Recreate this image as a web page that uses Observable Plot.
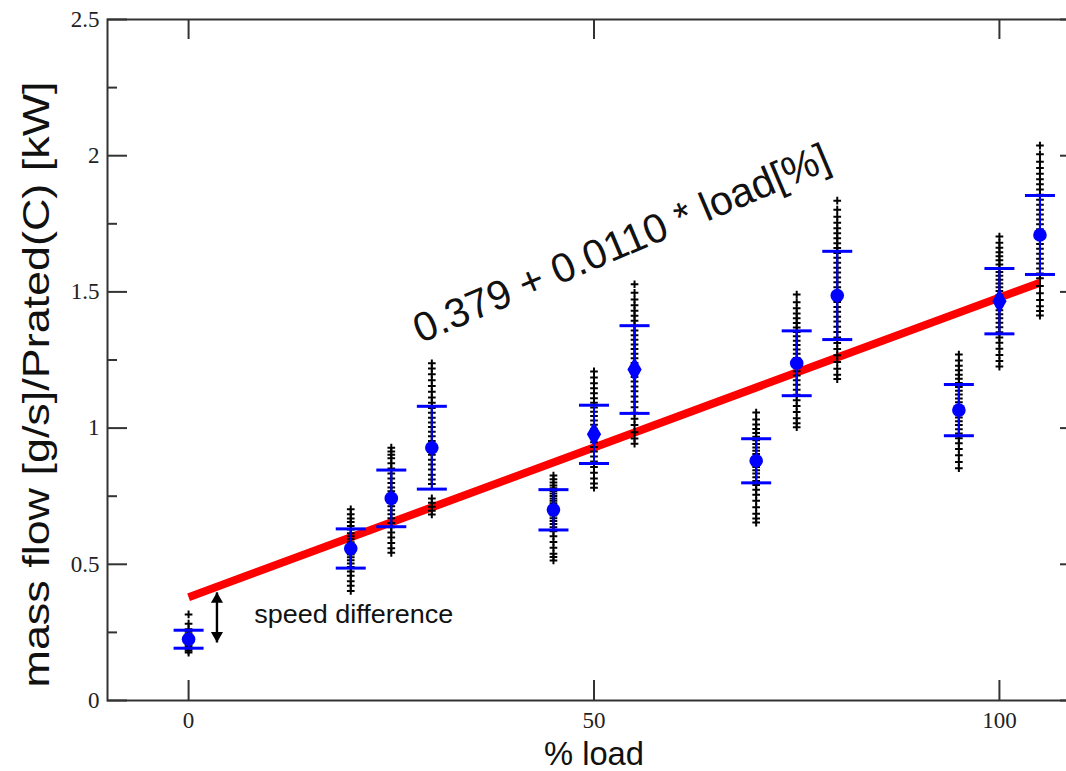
<!DOCTYPE html>
<html><head><meta charset="utf-8">
<script src="https://cdn.jsdelivr.net/npm/d3@7"></script>
<script src="https://cdn.jsdelivr.net/npm/@observablehq/plot@0.6"></script>
<style>
html,body{margin:0;padding:0;background:#fff;overflow:hidden}
#wrap{width:1066px;height:771px;overflow:hidden;position:relative}
</style>
</head><body><div id="wrap"></div>
<script>
// ---------- data ----------
const loads = [0, 20, 25, 30, 45, 50, 55, 70, 75, 80, 95, 100, 105];
const means = [0.225, 0.558, 0.742, 0.928, 0.700, 0.977, 1.215, 0.880, 1.238, 1.487, 1.066, 1.466, 1.709];
const sds   = [0.033, 0.072, 0.104, 0.152, 0.074, 0.107, 0.161, 0.081, 0.119, 0.162, 0.094, 0.120, 0.145];
const diamondLoads = [50, 55, 100];

const samples = [
  [0.316,0.282,0.262,0.252,0.244,0.238,0.233,0.229,0.225,0.221,0.216,0.211,0.205,0.198,0.19,0.183,0.176],
  [0.702,0.684,0.668,0.655,0.641,0.628,0.614,0.603,0.592,0.581,0.572,0.563,0.554,0.545,0.536,0.526,0.515,0.503,0.49,0.474,0.458,0.438,0.421,0.402],
  [0.928,0.914,0.902,0.889,0.871,0.852,0.833,0.815,0.798,0.782,0.768,0.754,0.741,0.727,0.713,0.698,0.684,0.669,0.652,0.636,0.617,0.598,0.578,0.559,0.542],
  [1.238,1.219,1.198,1.176,1.155,1.133,1.112,1.093,1.074,1.056,1.038,1.021,1.004,0.987,0.97,0.953,0.936,0.919,0.902,0.884,0.866,0.848,0.829,0.811,0.795,0.742,0.726,0.711,0.697,0.683],
  [0.826,0.812,0.8,0.789,0.779,0.769,0.76,0.751,0.742,0.733,0.724,0.715,0.706,0.697,0.688,0.679,0.669,0.659,0.648,0.636,0.621,0.603,0.582,0.561,0.539,0.527,0.514],
  [1.208,1.186,1.165,1.146,1.128,1.11,1.093,1.076,1.06,1.044,1.028,1.012,0.996,0.98,0.964,0.948,0.931,0.914,0.896,0.877,0.857,0.836,0.815,0.797,0.781],
  [1.528,1.497,1.472,1.451,1.431,1.412,1.394,1.376,1.358,1.341,1.324,1.307,1.29,1.273,1.256,1.239,1.222,1.205,1.188,1.171,1.153,1.135,1.116,1.097,1.077,1.056,1.034,1.011,0.985,0.962,0.943],
  [1.057,1.032,1.013,0.997,0.982,0.968,0.955,0.942,0.929,0.917,0.905,0.893,0.881,0.869,0.857,0.845,0.833,0.82,0.806,0.791,0.774,0.755,0.733,0.709,0.686,0.668,0.653],
  [1.49,1.462,1.44,1.421,1.403,1.386,1.369,1.353,1.337,1.321,1.305,1.289,1.273,1.257,1.241,1.225,1.209,1.193,1.176,1.159,1.141,1.122,1.102,1.081,1.059,1.036,1.018,1.003],
  [1.835,1.802,1.776,1.754,1.734,1.715,1.697,1.679,1.661,1.643,1.625,1.607,1.589,1.571,1.553,1.535,1.517,1.499,1.481,1.463,1.445,1.427,1.409,1.391,1.372,1.353,1.333,1.312,1.29,1.267,1.243,1.218,1.196,1.18],
  [1.27,1.248,1.229,1.212,1.196,1.181,1.166,1.151,1.137,1.123,1.109,1.095,1.081,1.067,1.053,1.039,1.025,1.011,0.996,0.98,0.963,0.944,0.923,0.9,0.876,0.853],
  [1.703,1.68,1.662,1.646,1.631,1.616,1.601,1.587,1.573,1.559,1.545,1.531,1.517,1.503,1.489,1.475,1.461,1.447,1.433,1.418,1.403,1.387,1.37,1.352,1.333,1.313,1.291,1.268,1.246,1.226],
  [2.037,2.005,1.978,1.955,1.934,1.914,1.895,1.876,1.857,1.838,1.82,1.802,1.784,1.766,1.748,1.73,1.712,1.694,1.676,1.658,1.64,1.622,1.604,1.586,1.568,1.55,1.522,1.495,1.47,1.447,1.43,1.413]
];

// fitted line end points (as drawn)
const fitLoad  = [0, 105];
const fitValue = [0.379, 1.534];

const xTicks = [0, 50, 100];
const yMajor = [0, 0.5, 1, 1.5, 2, 2.5];
const yMinor = [0.25, 0.75, 1.25, 1.75, 2.25];

const xLabel = "% load";
const yLabel = "mass flow [g/s]/Prated(C) [kW]";
const eqText = "0.379 + 0.0110 * load[%]";
const eqAt = {x: 28.6, y: 1.311};
const noteText = "speed difference";
const noteAt = {x: 8.1, y: 0.283};
const arrowAt = {x: 3.5, y1: 0.397, y2: 0.213};

// ---------- tables ----------
const stats = loads.map((l, i) => ({load: l, mean: means[i], sd: sds[i], diamond: diamondLoads.includes(l)}));
const points = loads.flatMap((l, i) => samples[i].map(v => ({load: l, value: v})));
const caps = stats.flatMap(d => [{load: d.load, value: d.mean - d.sd}, {load: d.load, value: d.mean + d.sd}]);
const fit = fitLoad.map((l, i) => ({load: l, value: fitValue[i]}));

// ---------- layout ----------
const W = 1080, H = 771, ML = 107, MR = 0, MT = 19, MB = 71;
const frameW = W - ML - MR, frameH = H - MT - MB;
const majorLen = 20, minorLen = 10;
const axisColor = "#333";
const blue = "#0000ff";
const sans = "'Liberation Sans', Arial, Helvetica, sans-serif";
const serif = "'Liberation Serif', 'Times New Roman', serif";

const capSymbol = {draw(ctx, size) { const r = Math.sqrt(size / Math.PI); ctx.moveTo(-r, 0); ctx.lineTo(r, 0); }};

const chart = Plot.plot({
  width: W, height: H,
  marginLeft: ML, marginRight: MR, marginTop: MT, marginBottom: MB,
  style: {maxWidth: "none", background: "#fff", fontFamily: serif, fontSize: "23px"},
  x: {domain: [-10, 110]},
  y: {domain: [0, 2.5]},
  marks: [
    Plot.line(fit, {x: "load", y: "value", stroke: "#ff0000", strokeWidth: 8, strokeLinecap: "butt"}),
    Plot.dot(points, {x: "load", y: "value", symbol: "plus", r: 2.6, stroke: "#000", strokeWidth: 2}),
    Plot.ruleX(stats, {x: "load", y1: d => d.mean - d.sd, y2: d => d.mean + d.sd, stroke: blue, strokeWidth: 2}),
    Plot.dot(caps, {x: "load", y: "value", symbol: capSymbol, r: 15, stroke: blue, strokeWidth: 3, fill: "none"}),
    Plot.dot(stats.filter(d => !d.diamond), {x: "load", y: "mean", r: 6.8, fill: blue, stroke: "none"}),
    Plot.dot(stats.filter(d => d.diamond), {x: "load", y: "mean", symbol: "diamond", r: 7.5, fill: blue, stroke: "none"}),
    Plot.frame({stroke: axisColor, strokeWidth: 2}),
    Plot.tickX(xTicks, {x: d => d, insetTop: frameH - majorLen, stroke: axisColor, strokeWidth: 2}),
    Plot.tickX(xTicks, {x: d => d, insetBottom: frameH - majorLen, stroke: axisColor, strokeWidth: 2}),
    Plot.tickY(yMajor, {y: d => d, insetRight: frameW - majorLen, stroke: axisColor, strokeWidth: 2}),
    Plot.tickY(yMajor, {y: d => d, insetLeft: frameW - majorLen, stroke: axisColor, strokeWidth: 2}),
    Plot.tickY(yMinor, {y: d => d, insetRight: frameW - minorLen, stroke: axisColor, strokeWidth: 2}),
    Plot.tickY(yMinor, {y: d => d, insetLeft: frameW - minorLen, stroke: axisColor, strokeWidth: 2}),
    Plot.axisX({ticks: xTicks, tickSize: 0, tickPadding: 11, label: null, fill: "#222"}),
    Plot.axisY({ticks: yMajor, tickSize: 0, tickPadding: 8, label: null, tickFormat: d => String(d), fill: "#222"}),
    // double-headed arrow
    Plot.link([arrowAt], {x1: "x", x2: "x", y1: "y1", y2: "y2", stroke: "#000", strokeWidth: 2.4}),
    Plot.dot([arrowAt], {x: "x", y: "y1", symbol: "triangle", r: 4.5, dy: 7, fill: "#000", stroke: "none"}),
    Plot.dot([arrowAt], {x: "x", y: "y2", symbol: "triangle", r: 4.5, dy: -7, rotate: 180, fill: "#000", stroke: "none"}),
    Plot.text([noteAt], {x: "x", y: "y", text: () => noteText, textAnchor: "start", lineAnchor: "bottom", fontSize: 26, fontFamily: sans, fill: "#111", className: "note"}),
    Plot.text([eqAt], {x: "x", y: "y", text: () => eqText, rotate: -23, textAnchor: "start", lineAnchor: "bottom", fontSize: 41, fontFamily: sans, fill: "#111", className: "eq"}),
    Plot.text([xLabel], {text: d => d, frameAnchor: "bottom", dy: 64, lineAnchor: "bottom", textAnchor: "middle", fontSize: 33, fontFamily: sans, fill: "#111", className: "xlab"}),
    Plot.text([yLabel], {text: d => d, frameAnchor: "left", dx: -58.5, dy: 24.5, rotate: -90, lineAnchor: "bottom", textAnchor: "middle", fontSize: 36, fontFamily: sans, fill: "#111", className: "ylab"})
  ]
});

document.getElementById("wrap").appendChild(chart);

// stretch long labels to the measured lengths
const fitLen = (cls, len) => chart.querySelectorAll(`.${cls} text`).forEach(t => {
  t.setAttribute("textLength", len); t.setAttribute("lengthAdjust", "spacingAndGlyphs");
});
fitLen("ylab", 606);
fitLen("eq", 448);
fitLen("xlab", 100);
fitLen("note", 199);
</script>
</body></html>
